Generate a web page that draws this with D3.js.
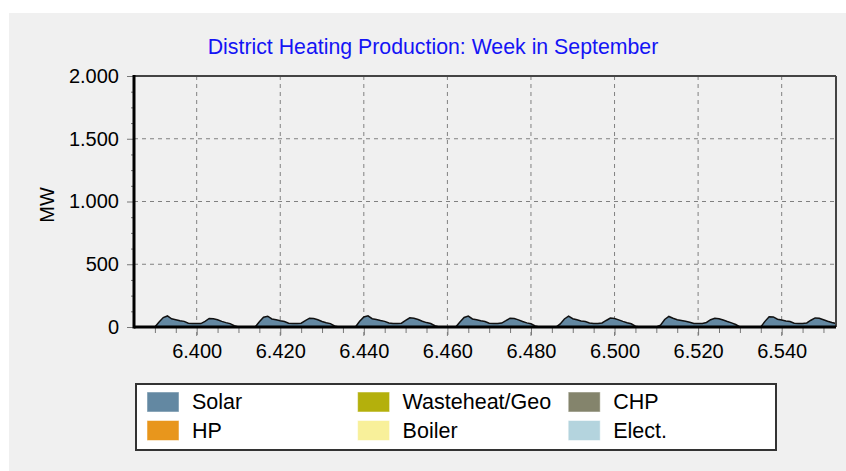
<!DOCTYPE html>
<html lang="en">
<head>
<meta charset="utf-8">
<title>District Heating Production: Week in September</title>
<script src="https://cdn.jsdelivr.net/npm/d3@7"></script>
<style>
  body { margin: 0; background: #fff; font-family: "Liberation Sans", Arial, sans-serif; }
  .tick text { font-family: "Liberation Sans", Arial, sans-serif; font-size: 20px; fill: #000; }
</style>
</head>
<body>
<script>
// hour of year of the first value
var startHour = 6385;

// solar production, MW, one value per hour (6385 .. 6553)
var solarMW = [
  0, 0, 0, 0, 0,
  0, 40, 75, 88, 65, 58, 50, 45, 30, 27, 27, 27, 45, 68, 66, 58, 45, 35, 27, 10, 0, 0, 0, 0,
  0, 42, 78, 86, 64, 57, 50, 44, 30, 28, 28, 30, 50, 70, 67, 58, 44, 34, 27, 8, 0, 0, 0, 0,
  0, 45, 80, 89, 66, 60, 52, 45, 32, 28, 28, 30, 52, 73, 70, 60, 46, 35, 28, 10, 0, 0, 0, 0,
  0, 40, 76, 87, 64, 58, 50, 44, 30, 27, 28, 31, 50, 70, 68, 57, 44, 33, 26, 8, 0, 0, 0, 0,
  0, 25, 64, 86, 66, 57, 48, 44, 32, 27, 28, 32, 52, 71, 68, 57, 45, 34, 26, 6, 0, 0, 0, 0,
  0, 15, 60, 84, 70, 58, 52, 46, 38, 28, 27, 28, 36, 58, 70, 66, 56, 44, 33, 20, 0, 0, 0, 0,
  0, 0, 45, 82, 80, 62, 56, 48, 44, 30, 28, 28, 32, 54, 72, 70, 58, 46, 36, 28
];

var xTicks = [6400, 6420, 6440, 6460, 6480, 6500, 6520, 6540];
var yTicks = [0, 500, 1000, 1500, 2000];

var legendNames  = ["Solar", "Wasteheat/Geo", "CHP", "HP", "Boiler", "Elect."];
var legendColors = ["#6388a2", "#b4b00c", "#84846c", "#e8961c", "#f8f09a", "#b4d4de"];

var w = 846, h = 471;

var svg = d3.select("body").append("svg")
  .attr("width", w)
  .attr("height", h);

// grey panel
svg.append("rect")
  .attr("x", 9).attr("y", 13)
  .attr("width", w - 9).attr("height", h - 13)
  .attr("fill", "#f0f0f0");

// title
svg.append("text")
  .attr("x", 433).attr("y", 54)
  .attr("text-anchor", "middle")
  .style("font-size", "21.3px")
  .style("fill", "#1414f5")
  .text("District Heating Production: Week in September");

var x = d3.scaleLinear().domain([6385, 6553]).range([134, 836]);
var y = d3.scaleLinear().domain([0, 2000]).range([327, 76]);

var loc = d3.formatLocale({ decimal: ",", thousands: ".", grouping: [3], currency: ["", ""] });
var fmt = loc.format(",");

// grid
svg.append("g").selectAll("line")
  .data(xTicks)
  .enter().append("line")
  .attr("x1", d => x(d)).attr("x2", d => x(d))
  .attr("y1", y(2000)).attr("y2", y(0) + 10)
  .attr("stroke", "#808080")
  .attr("stroke-dasharray", "4,4");

svg.append("g").selectAll("line")
  .data(yTicks.filter(d => d > 0 && d < 2000))
  .enter().append("line")
  .attr("x1", x.range()[0]).attr("x2", x.range()[1])
  .attr("y1", d => y(d)).attr("y2", d => y(d))
  .attr("stroke", "#808080")
  .attr("stroke-dasharray", "4,4");

// minor ticks
var xMinor = d3.range(6390, 6553, 5).filter(d => xTicks.indexOf(d) < 0);
var yMinor = d3.range(125, 2000, 125).filter(d => yTicks.indexOf(d) < 0);

var xMinorAxis = svg.append("g")
  .attr("transform", "translate(0," + y(0) + ")")
  .call(d3.axisBottom(x).tickValues(xMinor).tickSize(6).tickFormat(""));
xMinorAxis.select(".domain").remove();
xMinorAxis.selectAll("line").attr("stroke", "#777");

var yMinorAxis = svg.append("g")
  .attr("transform", "translate(" + x.range()[0] + ",0)")
  .call(d3.axisLeft(y).tickValues(yMinor).tickSize(3).tickFormat(""));
yMinorAxis.select(".domain").remove();
yMinorAxis.selectAll("line").attr("stroke", "#777");

// major axes with labels
var xAxis = svg.append("g")
  .attr("transform", "translate(0," + y(0) + ")")
  .call(d3.axisBottom(x).tickValues(xTicks).tickSize(8).tickPadding(9).tickFormat(fmt));
xAxis.select(".domain").remove();
xAxis.selectAll("line").attr("stroke", "#777");
xAxis.selectAll("text").attr("dy", "0.71em");

var yAxis = svg.append("g")
  .attr("transform", "translate(" + x.range()[0] + ",0)")
  .call(d3.axisLeft(y).tickValues(yTicks).tickSize(7).tickPadding(8).tickFormat(fmt));
yAxis.select(".domain").remove();
yAxis.selectAll("line").attr("stroke", "#777");

// solar area
var area = d3.area()
  .x((d, i) => x(startHour + i))
  .y0(y(0))
  .y1(d => y(d));

var line = d3.line()
  .x((d, i) => x(startHour + i))
  .y(d => y(d));

svg.append("path")
  .datum(solarMW)
  .attr("d", area)
  .attr("fill", legendColors[0]);

svg.append("path")
  .datum(solarMW)
  .attr("d", line)
  .attr("fill", "none")
  .attr("stroke", "#111")
  .attr("stroke-width", 1.5);

// frame
svg.append("line")
  .attr("x1", x.range()[0]).attr("x2", x.range()[1])
  .attr("y1", y(2000)).attr("y2", y(2000))
  .attr("stroke", "#444").attr("stroke-width", 2);
svg.append("line")
  .attr("x1", x.range()[1]).attr("x2", x.range()[1])
  .attr("y1", y(2000)).attr("y2", y(0))
  .attr("stroke", "#444").attr("stroke-width", 2);
svg.append("line")
  .attr("x1", x.range()[0]).attr("x2", x.range()[0])
  .attr("y1", y(2000) - 1).attr("y2", y(0) + 1.5)
  .attr("stroke", "#000").attr("stroke-width", 3);
svg.append("line")
  .attr("x1", x.range()[0]).attr("x2", x.range()[1])
  .attr("y1", y(0)).attr("y2", y(0))
  .attr("stroke", "#000").attr("stroke-width", 3);

// y title
svg.append("text")
  .attr("transform", "translate(54,205) rotate(-90)")
  .attr("text-anchor", "middle")
  .style("font-size", "20px")
  .text("MW");

// legend
var lg = svg.append("g");
lg.append("rect")
  .attr("x", 136).attr("y", 384)
  .attr("width", 640).attr("height", 66)
  .attr("fill", "#fff")
  .attr("stroke", "#333").attr("stroke-width", 2);

var items = lg.selectAll("g.item")
  .data(legendNames)
  .enter().append("g")
  .attr("class", "item")
  .attr("transform", (d, i) => "translate(" + (147 + (i % 3) * 210.6) + "," + (392 + Math.floor(i / 3) * 28.5) + ")");

items.append("rect")
  .attr("width", 32).attr("height", 20)
  .attr("fill", (d, i) => legendColors[i])
  .attr("stroke", "#fff").attr("stroke-opacity", 0.5);

items.append("text")
  .attr("x", 45).attr("y", 17)
  .style("font-size", "21.5px")
  .text(d => d);
</script>
</body>
</html>
